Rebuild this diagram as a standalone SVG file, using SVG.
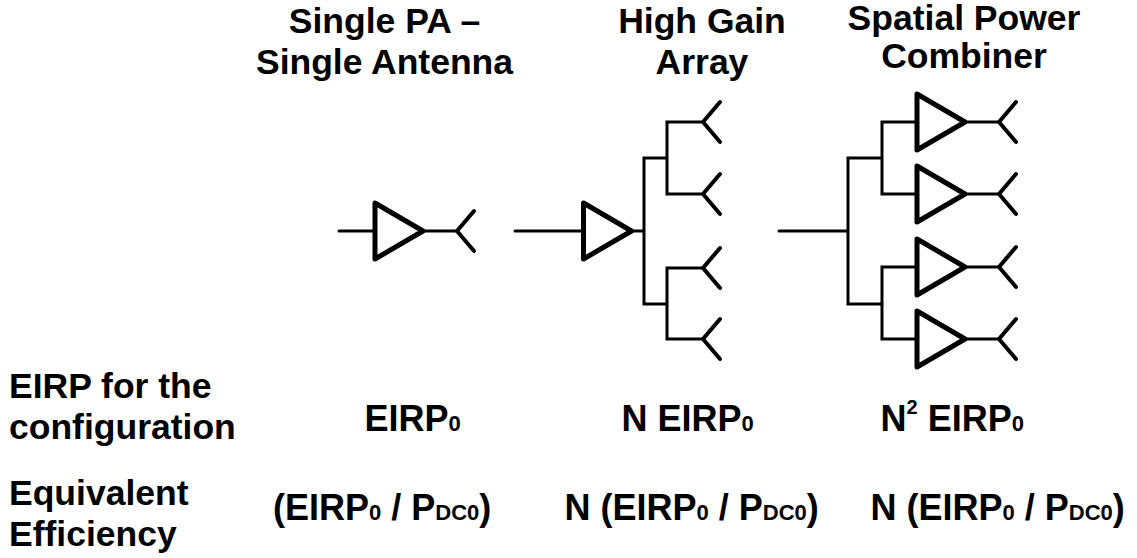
<svg xmlns="http://www.w3.org/2000/svg" width="1137" height="558" viewBox="0 0 1137 558">
<style>
text{font-family:"Liberation Sans",Arial,sans-serif;font-weight:700;font-size:35.5px;fill:#000}
.m{text-anchor:middle}
.v{font-size:36px}
.s{font-size:22px}
.u{font-size:20px}
.w{fill:none;stroke:#000;stroke-width:3;stroke-linecap:round;stroke-linejoin:miter}
.t{fill:#fff;stroke:#000;stroke-width:5;stroke-linejoin:round}
.a{fill:none;stroke:#000;stroke-width:4;stroke-linecap:round;stroke-linejoin:round}
</style>
<defs>
<polygon id="pa" class="t" points="0,-28 0,28 48,0"/>
<path id="ant" class="a" d="M17,-20 L0,0 L17,20"/>
</defs>
<g id="connectors">
<path class="w" d="M339,231H375M423,231H457"/>
<path class="w" d="M515,231H583M632,231H644M667,158H644V304H667M703,122H667V194H703M703,268H667V339H703"/>
<path class="w" d="M779,231H848M882,158H848V304H882M917,122H882V194H917M917,267H882V339H917M965,122H999M965,194H999M965,267H999M965,339H999"/>
</g>
<g id="node-single-pa"><use href="#pa" x="375" y="231"/><use href="#ant" x="457" y="231"/></g>
<g id="node-array-pa"><use href="#pa" x="583.5" y="231"/></g>
<g id="node-array-antennas"><use href="#ant" x="703" y="122"/><use href="#ant" x="703" y="194"/><use href="#ant" x="703" y="268"/><use href="#ant" x="703" y="339"/></g>
<g id="node-combiner-pas"><use href="#pa" x="917" y="122"/><use href="#pa" x="917" y="194"/><use href="#pa" x="917" y="267"/><use href="#pa" x="917" y="339"/></g>
<g id="node-combiner-antennas"><use href="#ant" x="999" y="122"/><use href="#ant" x="999" y="194"/><use href="#ant" x="999" y="267"/><use href="#ant" x="999" y="339"/></g>
<g id="titles">
<text class="m" x="384.5" y="33">Single PA –</text>
<text class="m" x="384.5" y="74">Single Antenna</text>
<text class="m" x="702" y="33">High Gain</text>
<text class="m" x="702" y="74">Array</text>
<text class="m" x="964" y="30">Spatial Power</text>
<text class="m" x="964" y="68">Combiner</text>
</g>
<g id="row-labels">
<text x="9" y="398">EIRP for the</text>
<text x="9" y="439">configuration</text>
<text x="9" y="505">Equivalent</text>
<text x="9" y="546">Efficiency</text>
</g>
<g id="eirp-row">
<text class="v" x="364.5" y="431">EIRP<tspan class="s">0</tspan></text>
<text class="v" x="621.5" y="431">N EIRP<tspan class="s">0</tspan></text>
<text class="v" x="880.5" y="431">N<tspan class="u" dy="-17">2</tspan><tspan dy="17"> EIRP</tspan><tspan class="s">0</tspan></text>
</g>
<g id="efficiency-row">
<text class="v" x="273" y="520">(EIRP<tspan class="s">0</tspan> / P<tspan class="s">DC0</tspan>)</text>
<text class="v" x="564.5" y="520">N (EIRP<tspan class="s">0</tspan> / P<tspan class="s">DC0</tspan>)</text>
<text class="v" x="870.5" y="520">N (EIRP<tspan class="s">0</tspan> / P<tspan class="s">DC0</tspan>)</text>
</g>
</svg>
